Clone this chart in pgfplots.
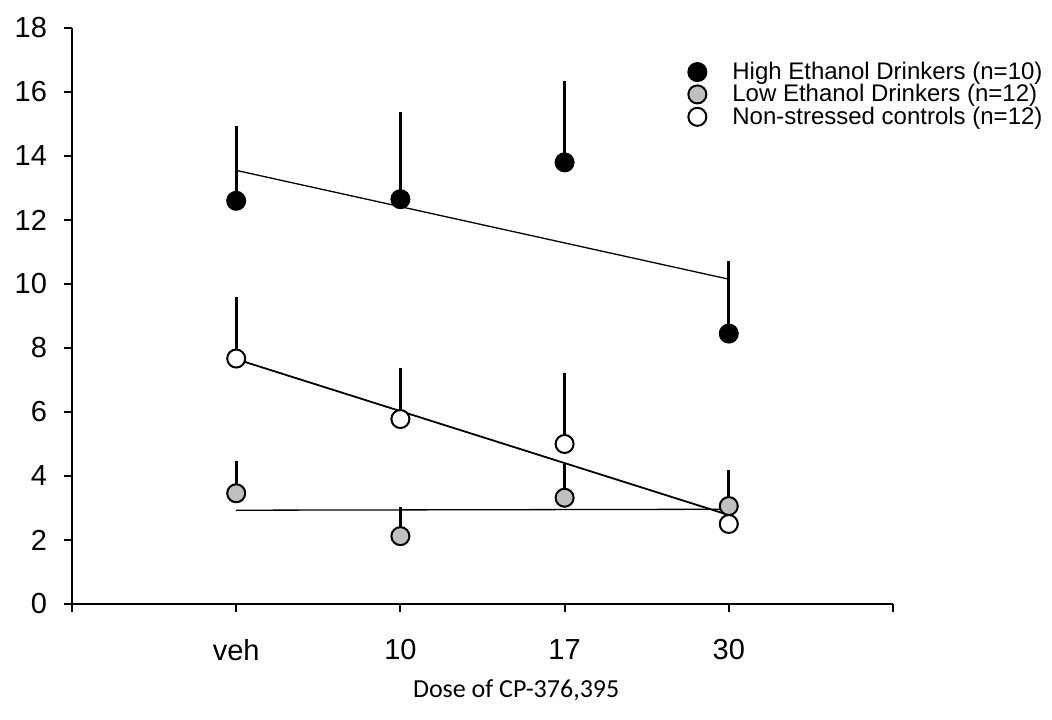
\documentclass[border=0pt]{standalone}
\usepackage{pgfplots}
\pgfplotsset{compat=1.18}
\usepackage{fontspec}
\setmainfont{Liberation Sans}
\newfontfamily\calibri{Carlito}
\definecolor{lowgray}{RGB}{192,192,192}
\begin{document}
\begin{tikzpicture}
\begin{axis}[
  width=410.5bp, height=288bp, scale only axis,
  xmin=-1, xmax=4, ymin=0, ymax=18,
  axis x line*=bottom, axis y line*=left,
  axis line style={line width=1bp},
  xtick={-1,0,1,2,3,4}, xticklabels={,veh,10,17,30,},
  ytick={0,2,...,18},
  tick align=outside, major tick length=4bp,
  every tick/.style={black, line width=1bp},
  /pgf/number format/assume math mode=true,
  tick label style={font=\fontsize{14.5bp}{17bp}\selectfont},
  xticklabel style={anchor=center, yshift=-19bp},
  yticklabel style={anchor=east, xshift=-5bp},
  clip=false,
  legend style={draw=none, fill=none, at={(0.743,0.954)}, anchor=north west,
    font=\fontsize{12bp}{13bp}\selectfont, row sep=-2bp,
    nodes={inner sep=1.5bp},
    legend cell align=left},
  legend image code/.code={\draw[mark repeat=2,mark phase=2,#1] plot coordinates {(0bp,0bp)(8bp,0bp)(16bp,0bp)}; \path[draw=none] (3.5bp,0bp) -- (24bp,0bp);},
]
% trend lines
\addplot[black, line width=0.65bp, forget plot] coordinates {(0,13.55) (3,10.15)};
\addplot[black, line width=0.65bp, forget plot] coordinates {(0,2.93) (3,2.96)};
\addplot[black, line width=0.9bp, forget plot] coordinates {(0,7.65) (3,2.78)};
% data
\addplot[only marks, mark=*, mark size=4.5bp, mark options={draw=black, fill=black, line width=1bp},
  error bars/.cd, y dir=plus, y explicit, error mark=none,
  error bar style={line width=1.5bp, black}]
  coordinates {(0,12.6) +- (0,2.34) (1,12.65) +- (0,2.72) (2,13.8) +- (0,2.55) (3,8.45) +- (0,2.27)};
\addlegendentry{High Ethanol Drinkers (n=10)}
\addplot[only marks, mark=*, mark size=4.5bp, mark options={draw=black, fill=lowgray, line width=1bp},
  error bars/.cd, y dir=plus, y explicit, error mark=none,
  error bar style={line width=1.5bp, black}]
  coordinates {(0,3.46) +- (0,1.02) (1,2.12) +- (0,0.9) (2,3.32) +- (0,1.07) (3,3.06) +- (0,1.13)};
\addlegendentry{Low Ethanol Drinkers (n=12)}
\addplot[only marks, mark=*, mark size=4.5bp, mark options={draw=black, fill=white, line width=1bp},
  error bars/.cd, y dir=plus, y explicit, error mark=none,
  error bar style={line width=1.5bp, black}]
  coordinates {(0,7.67) +- (0,1.91) (1,5.78) +- (0,1.61) (2,5.0) +- (0,2.21) (3,2.5) +- (0,1.69)};
\addlegendentry{Non-stressed controls (n=12)}
\node[font=\calibri\fontsize{13bp}{15bp}\selectfont, anchor=center] at (rel axis cs:0.541,0) [yshift=-43bp] {Dose of CP-376,395};
\coordinate (bl) at (rel axis cs:-0.0877,-0.1997);
\coordinate (tr) at (rel axis cs:1.1937,1.0486);
\end{axis}
\pgfresetboundingbox
\path[use as bounding box] (bl) rectangle (tr);
\end{tikzpicture}
\end{document}
